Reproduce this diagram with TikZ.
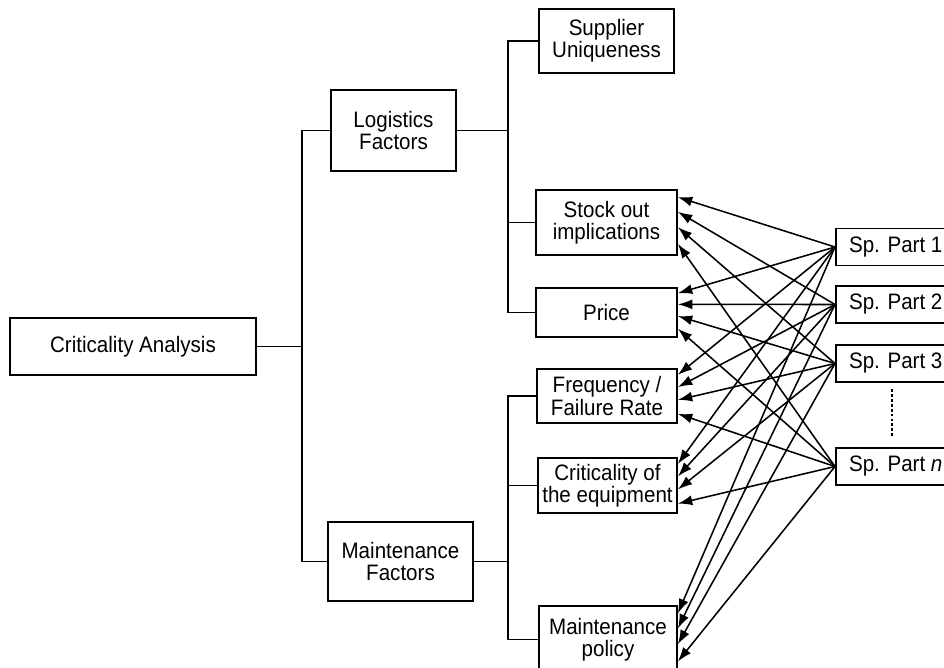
\documentclass[tikz,border=0pt]{standalone}
\usepackage{fontspec}
\setmainfont[FakeStretch=0.92]{Liberation Sans}
\usetikzlibrary{arrows.meta,calc}
\tikzset{box/.style={draw,line width=1.2pt,align=center,inner sep=0pt},
  part/.style={box,anchor=west,inner xsep=0.33cm,minimum height=0.925cm},
  link/.style={line width=1.1pt},
  toarr/.style={line width=1.1pt,-{Latex[length=0.36cm,width=0.25cm]}}}

\begin{document}
\begin{tikzpicture}[x=0.025cm,y=-0.025cm,font=\fontsize{15.9}{15.8}\selectfont]
       \clip (0,0) rectangle (944,668);
       % tree of criteria
       \node[box,minimum width=6.15cm,minimum height=1.425cm] (analysis) at (133,346.5) {Criticality Analysis};
       \node[box,minimum width=3.125cm,minimum height=2.025cm] (logi) at (393.5,130.5) {Logistics\\Factors};
       \node[box,minimum width=3.625cm,minimum height=1.975cm] (mfac) at (400.5,561.5) {Maintenance\\Factors};
       \node[box,minimum width=3.375cm,minimum height=1.6cm] (supp) at (606.5,41) {Supplier\\Uniqueness};
       \node[box,minimum width=3.525cm,minimum height=1.625cm] (stock) at (606.5,222.5) {Stock out\\implications};
       \node[box,minimum width=3.525cm,minimum height=1.225cm] (price) at (606.5,312.5) {Price};
       \node[box,minimum width=3.5cm,minimum height=1.35cm] (freq) at (607,396) {Frequency /\\Failure Rate};
       \node[box,minimum width=3.475cm,minimum height=1.375cm] (eqp) at (607.5,485.5) {Criticality of\\the equipment};
       \node[box,minimum width=3.45cm,minimum height=1.675cm] (pol) at (608,639.5) {Maintenance\\policy};
       % spare parts
       \node[part] (p1) at (835,247) {Sp. Part 1};
       \node[part] (p2) at (835,304.5) {Sp. Part 2};
       \node[part] (p3) at (835,363.5) {Sp. Part 3};
       \node[part] (pn) at (835,466.5) {Sp. Part \textit{n}};
       \draw[line width=0.8pt,dash pattern=on 2pt off 1.5pt] (892,389) -- (892,436);
       % branches
       \coordinate (abus) at (302,346.5);
       \draw[link] (analysis) -- (abus) |- (logi);
       \draw[link] (abus) |- (mfac);
       \coordinate (lbus) at (508,130.5);
       \draw[link] (logi) -- (lbus) |- (supp);
       \draw[link] (lbus) |- (stock);
       \draw[link] (lbus) |- (price);
       \coordinate (mbus) at (508,561.5);
       \draw[link] (mfac) -- (mbus) |- (freq);
       \draw[link] (mbus) |- (eqp);
       \draw[link] (mbus) |- (pol);
       % every spare part to every criterion
       \foreach \s/\f in {p1/0.12,p2/0.34,p3/0.57,pn/0.82}
         \foreach \t in {stock,price,freq,eqp,pol}
           \draw[toarr] (\s.west) -- ($(\t.north east)!\f!(\t.south east)$);
      \end{tikzpicture}
\end{document}
